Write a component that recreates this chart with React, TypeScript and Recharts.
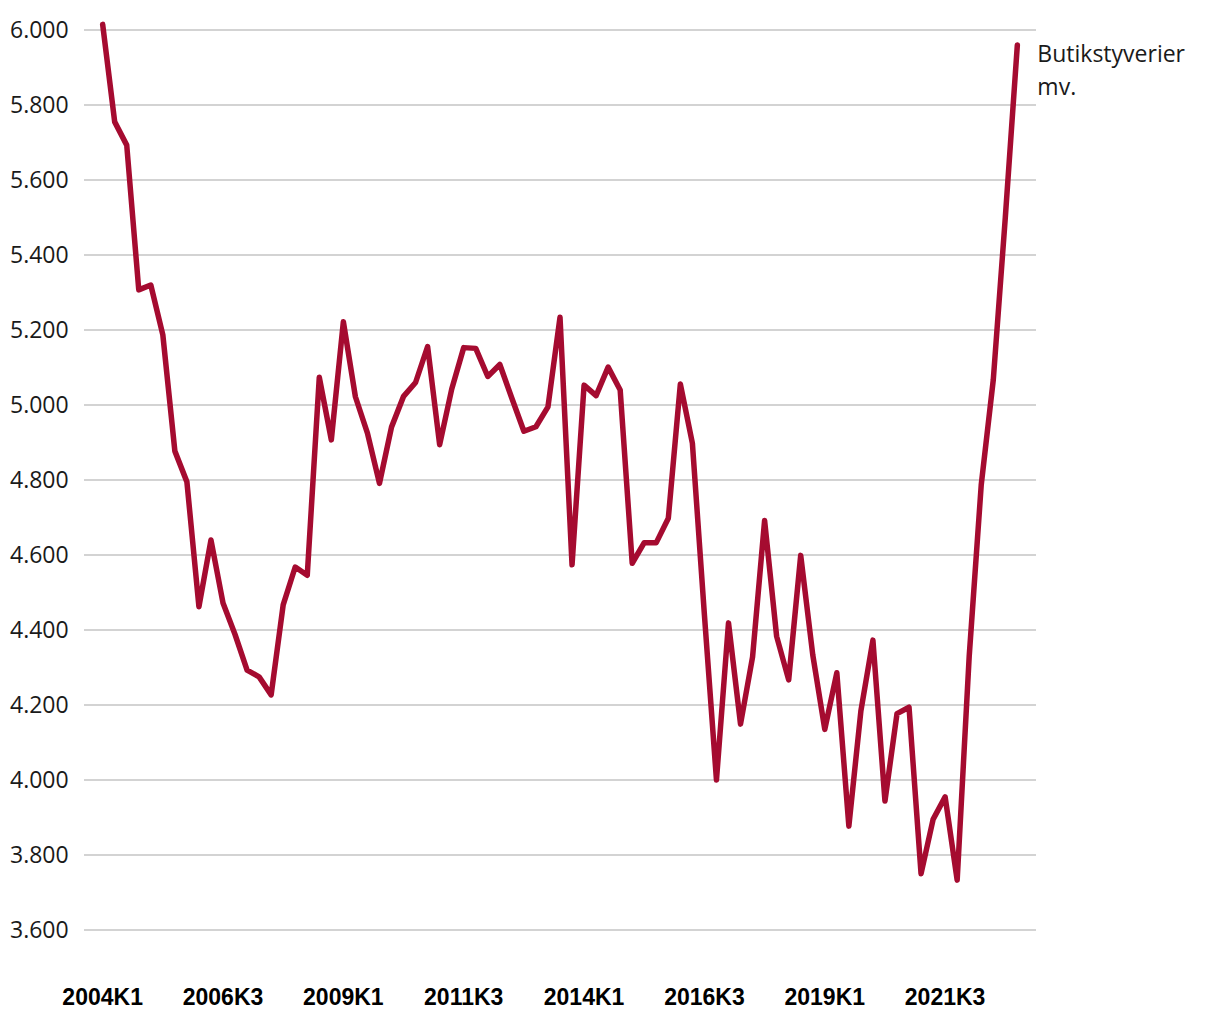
import React from "react";
import { LineChart, Line, XAxis, YAxis, CartesianGrid } from "recharts";

// Butikstyverier mv., kvartalsvis 2004K1 - 2023K1
const startYear = 2004;
const quarters: string[] = [];
for (let i = 0; i < 77; i++) {
  quarters.push(`${startYear + Math.floor(i / 4)}K${(i % 4) + 1}`);
}

const shoplifting = [
  6015, 5755, 5693, 5307, 5320, 5187, 4877, 4795, 4462, 4640,
  4472, 4388, 4293, 4275, 4227, 4467, 4568, 4546, 5074, 4907,
  5222, 5022, 4925, 4791, 4941, 5023, 5060, 5156, 4894, 5042,
  5153, 5151, 5076, 5108, 5018, 4930, 4942, 4995, 5234, 4574,
  5053, 5025, 5101, 5040, 4578, 4633, 4633, 4698, 5056, 4898,
  4440, 4000, 4419, 4149, 4328, 4692, 4383, 4267, 4599, 4334,
  4135, 4286, 3877, 4184, 4373, 3944, 4177, 4194, 3750, 3895,
  3955, 3733, 4330, 4787, 5067, 5500, 5960,
];

const seriesName = ["Butikstyverier", "mv."];
const xTicks = [0, 10, 20, 30, 40, 50, 60, 70];
const yTicks = [3600, 3800, 4000, 4200, 4400, 4600, 4800, 5000, 5200, 5400, 5600, 5800, 6000];

const data = shoplifting.map((v, i) => ({ i, q: quarters[i], value: v }));

const RED = "#A50B30";

function fmtThousands(v: number): string {
  return `${Math.floor(v / 1000)}.${String(v % 1000).padStart(3, "0")}`;
}

function YTick({ y, payload }: any) {
  return (
    <text x={10} y={y} dy={8} fontSize={23} fill="#1a1a1a" fontFamily="'Open Sans', sans-serif" textAnchor="start">
      {fmtThousands(payload.value)}
    </text>
  );
}

function XTick({ x, y, payload }: any) {
  return (
    <text x={x} y={y} dy={37} fontSize={23} fontWeight="bold" fill="#000" fontFamily="'Liberation Sans', Arial, sans-serif" textAnchor="middle">
      {quarters[payload.value]}
    </text>
  );
}

function EndLabel({ x, y, index }: any) {
  if (index !== shoplifting.length - 1) return null;
  return (
    <text x={x + 20} y={y + 17} fontSize={23} fill="#1a1a1a" fontFamily="'Open Sans', sans-serif">
      <tspan x={x + 20}>{seriesName[0]}</tspan>
      <tspan x={x + 20} dy={33}>{seriesName[1]}</tspan>
    </text>
  );
}

export default function App() {
  return (
    <div style={{ position: "absolute", left: 0, top: 0, background: "#fff" }}>
      <LineChart
        width={1210}
        height={1015}
        data={data}
        margin={{ top: 15, right: 174, bottom: 0, left: 0 }}
      >
        <CartesianGrid vertical={false} horizontalValues={yTicks} stroke="#c4c4c4" strokeWidth={1.5} />
        <XAxis
          dataKey="i"
          type="number"
          domain={[-1.55, 77.55]}
          ticks={xTicks}
          tick={<XTick />}
          tickLine={false}
          axisLine={false}
          height={55}
          interval={0}
          allowDataOverflow
        />
        <YAxis
          domain={[3520, 6040]}
          ticks={yTicks}
          tick={<YTick />}
          tickLine={false}
          axisLine={false}
          width={84}
          allowDataOverflow
        />
        <Line
          dataKey="value"
          type="linear"
          stroke={RED}
          strokeWidth={5.5}
          strokeLinejoin="round"
          strokeLinecap="round"
          dot={false}
          activeDot={false}
          isAnimationActive={false}
          label={<EndLabel />}
        />
      </LineChart>
    </div>
  );
}
